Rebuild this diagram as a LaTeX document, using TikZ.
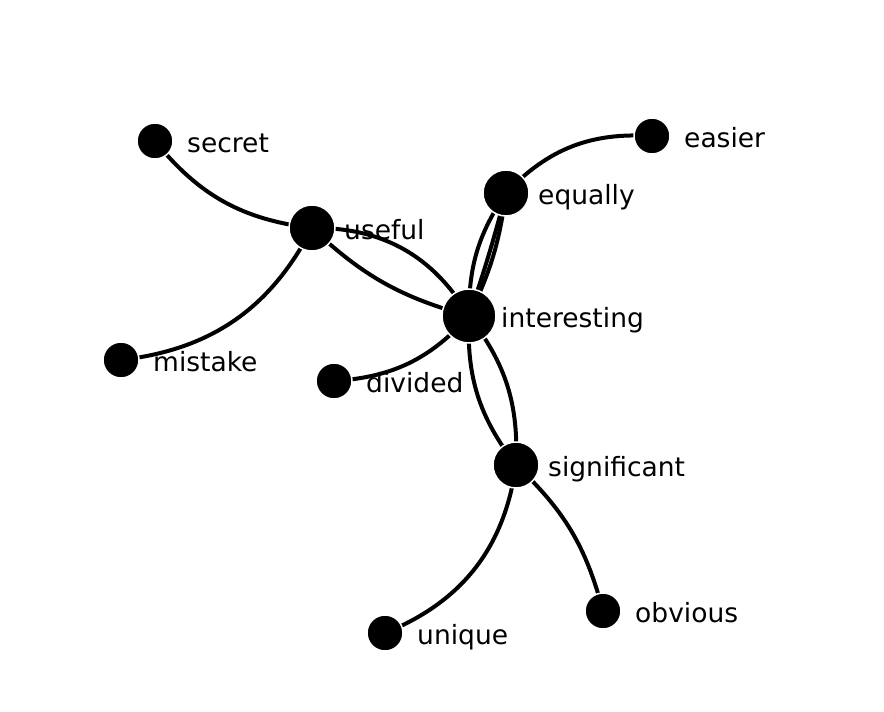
\documentclass[tikz,border=0pt]{standalone}
\usepackage{fontspec}
\setmainfont{DejaVu Sans}
\usetikzlibrary{backgrounds}
\tikzset{
  dot/.style={circle, fill=black, draw=white, line width=1.5pt, inner sep=0pt, minimum size=#1},
  lbl/.style={anchor=base west, inner sep=0pt, font=\fontsize{26.5}{30}\selectfont},
  link/.style={line width=4pt, black},
}
\begin{document}
\begin{tikzpicture}[x=1pt, y=-1pt]
\useasboundingbox (0,0) rectangle (884,712);
\node[dot=36pt] (secret) at (155,141) {};
\node[dot=46pt] (useful) at (312,228) {};
\node[dot=36pt] (mistake) at (121,360) {};
\node[dot=36pt] (divided) at (334,381) {};
\node[dot=54pt] (interesting) at (469,316) {};
\node[dot=46pt] (equally) at (506,193) {};
\node[dot=36pt] (easier) at (652,136) {};
\node[dot=46pt] (significant) at (516,465) {};
\node[dot=36pt] (unique) at (385,633) {};
\node[dot=36pt] (obvious) at (603,611) {};
\begin{pgfonlayer}{background}
\draw[link] (useful.center) to[bend left=22] (secret.center);
\draw[link] (useful.center) to[bend left=28] (mistake.center);
\draw[link] (useful.center) to[bend left=30] (interesting.center);
\draw[link] (interesting.center) to[bend left=14] (useful.center);
\draw[link] (interesting.center) to[bend left=17] (equally.center);
\draw[link] (equally.center) to[bend left=9] (interesting.center);
\draw[link] (equally.center) to[bend left=2] (interesting.center);
\draw[link] (equally.center) to[bend left=25] (easier.center);
\draw[link] (interesting.center) to[bend left=22] (divided.center);
\draw[link] (interesting.center) to[bend left=20] (significant.center);
\draw[link] (significant.center) to[bend left=20] (interesting.center);
\draw[link] (significant.center) to[bend left=30] (unique.center);
\draw[link] (significant.center) to[bend left=16] (obvious.center);
\end{pgfonlayer}
\node[lbl] (tsecret) at (187,152) {secret};
\node[lbl] (tuseful) at (344,239) {useful};
\node[lbl] (tmistake) at (153,371) {mistake};
\node[lbl] (tdivided) at (366,392) {divided};
\node[lbl] (tinteresting) at (501,327) {interesting};
\node[lbl] (tequally) at (538,204) {equally};
\node[lbl] (teasier) at (684,147) {easier};
\node[lbl] (tsignificant) at (548,476) {significant};
\node[lbl] (tunique) at (417,644) {unique};
\node[lbl] (tobvious) at (635,622) {obvious};
\end{tikzpicture}
\end{document}
